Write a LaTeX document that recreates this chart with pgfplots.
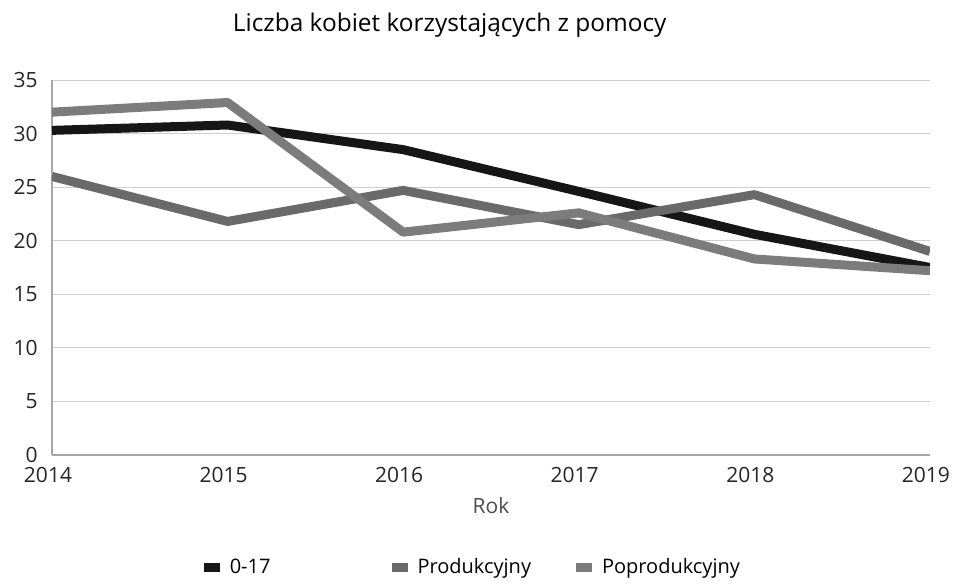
\documentclass[border=0pt]{standalone}
\usepackage{pgfplots}
\pgfplotsset{compat=1.18}
\usepackage{fontspec}
\setmainfont{Open Sans}
\definecolor{cblack}{HTML}{161616}
\definecolor{cprod}{HTML}{6A6A6A}
\definecolor{cpop}{HTML}{7C7C7C}
\definecolor{cgrid}{HTML}{CFCFCF}
\begin{document}
\begin{tikzpicture}
\path[use as bounding box] (-26pt,-65pt) rectangle (451pt,227.5pt);
\begin{axis}[
  at={(0,0)}, anchor=south west,
  scale only axis, width=439pt, height=187.5pt,
  xmin=2014, xmax=2019, ymin=0, ymax=35,
  xtick={2014,...,2019}, ytick={0,5,...,35},
  xticklabels={2014,2015,2016,2017,2018,2019},
  /pgf/number format/assume math mode=true,
  /pgf/number format/1000 sep={},
  tick style={draw=none},
  axis x line*=bottom, axis y line*=left,
  axis line style={draw=gray!70, line width=0.6pt},
  ymajorgrids, grid style={cgrid, line width=0.5pt},
  tick label style={font=\fontsize{10.5}{12}\selectfont, text=black!85},
  yticklabel style={inner sep=0pt, xshift=-7pt},
  xticklabel style={inner sep=0pt, yshift=-6pt, xshift=-2pt},
  xlabel={Rok}, xlabel style={font=\fontsize{10.5}{12}\selectfont, text=black!70, yshift=-4pt},
  title={Liczba kobiet korzystających z pomocy},
  title style={font=\fontsize{12.2}{14}\selectfont, at={(0.453,1)}, yshift=12pt},
  legend columns=3,
  legend style={at={(0.4805,-0.30)}, anchor=center, draw=none, fill=none,
    font=\fontsize{10}{12}\selectfont,
    /tikz/column 1/.style={column sep=3pt},
    /tikz/column 3/.style={column sep=3pt},
    /tikz/column 5/.style={column sep=3pt},
    /tikz/column 2/.style={column sep=58.5pt},
    /tikz/column 4/.style={column sep=20.5pt}},
  legend image code/.code={\fill[#1, draw=none] (-2pt,-2.2pt) rectangle (6pt,2.2pt);},
  line join=round,
]
\addplot[cblack, line width=4.5pt, mark=none] coordinates {
 (2014,30.3) (2015,30.8) (2016,28.5) (2017,24.6) (2018,20.6) (2019,17.5)};
\addlegendentry{0-17}
\addplot[cprod, line width=4.5pt, mark=none] coordinates {
 (2014,26.0) (2015,21.8) (2016,24.7) (2017,21.5) (2018,24.3) (2019,19.0)};
\addlegendentry{Produkcyjny}
\addplot[cpop, line width=4.5pt, mark=none] coordinates {
 (2014,32.0) (2015,32.9) (2016,20.8) (2017,22.6) (2018,18.3) (2019,17.2)};
\addlegendentry{Poprodukcyjny}
\end{axis}
\end{tikzpicture}
\end{document}
